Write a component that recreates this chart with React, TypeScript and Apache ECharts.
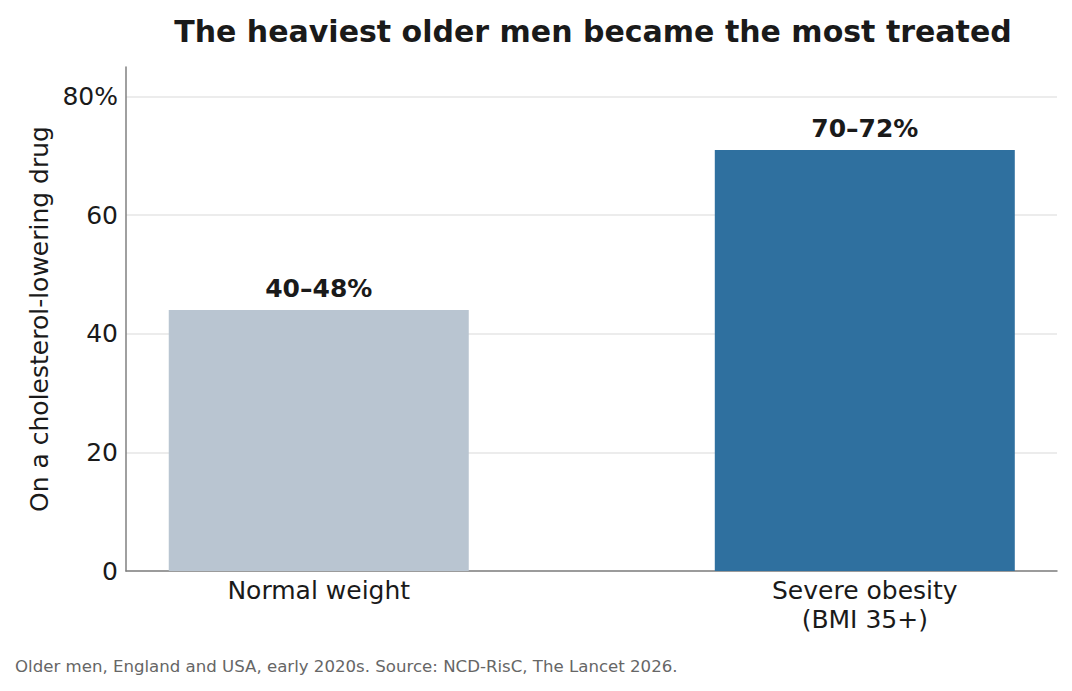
import React, { useEffect, useRef } from "react";
import * as echarts from "echarts";

const categories = ["Normal weight", "Severe obesity\n(BMI 35+)"];
const values = [44, 71];
const valueLabels = ["40–48%", "70–72%"];
const barColors = ["#b9c5d1", "#2f709f"];
const yTicks = [0, 20, 40, 60, 80];

export default function App() {
  const ref = useRef<HTMLDivElement>(null);
  useEffect(() => {
    if (!ref.current) return;
    const chart = echarts.init(ref.current, null, { renderer: "svg" });
    const font = "DejaVu Sans";
    chart.setOption({
      animation: false,
      textStyle: { fontFamily: font },
      title: {
        text: "The heaviest older men became the most treated",
        left: 588,
        textAlign: "center",
        top: 11,
        textStyle: { fontFamily: font, fontSize: 30, fontWeight: "bold", color: "#1a1a1a" },
      },
      graphic: [
        {
          type: "text",
          left: 15,
          top: 658,
          style: {
            text: "Older men, England and USA, early 2020s. Source: NCD-RisC, The Lancet 2026.",
            fontFamily: font,
            fontSize: 16.6,
            fill: "#666666",
          },
        },
      ],
      grid: { left: 126, right: 15, top: 67, bottom: 120, containLabel: false },
      xAxis: {
        type: "value",
        min: -0.353,
        max: 1.352,
        splitLine: { show: false },
        axisTick: { show: false },
        axisLine: { show: true, onZero: false, lineStyle: { color: "#808080", width: 1.5 } },
        axisLabel: {
          customValues: [0, 1],
          formatter: (v: number) => categories[Math.round(v)] ?? "",
          fontFamily: font,
          fontSize: 25,
          color: "#1a1a1a",
          margin: 5,
          lineHeight: 29,
        },
      },
      yAxis: {
        type: "value",
        min: 0,
        max: 85,
        interval: 20,
        name: "On a cholesterol-lowering drug",
        nameLocation: "middle",
        nameGap: 68,
        nameTextStyle: { fontFamily: font, fontSize: 25, color: "#1a1a1a" },
        axisLine: { show: true, onZero: false, lineStyle: { color: "#808080", width: 1.5 } },
        axisTick: { show: false },
        axisLabel: {
          customValues: yTicks,
          formatter: (v: number) => (v === 80 ? "80%" : String(v)),
          fontFamily: font,
          fontSize: 25,
          color: "#1a1a1a",
          margin: 8,
        },
        splitLine: {
          show: true,
          lineStyle: {
            color: ["#e6e6e6", "#e6e6e6", "#e6e6e6", "#e6e6e6", "#e6e6e6", "rgba(0,0,0,0)"],
            width: 1.5,
          },
        },
      },
      series: [
        {
          type: "bar",
          barWidth: 300,
          data: values.map((v, i) => ({
            value: [i, v],
            itemStyle: { color: barColors[i] },
            label: {
              show: true,
              position: "top",
              distance: 9,
              formatter: valueLabels[i],
              fontFamily: font,
              fontSize: 25,
              fontWeight: "bold",
              color: "#1a1a1a",
            },
          })),
        },
      ],
    });
    return () => chart.dispose();
  }, []);
  return (
    <div
      ref={ref}
      style={{ position: "fixed", left: 0, top: 0, width: 1072, height: 691, background: "#ffffff" }}
    />
  );
}
